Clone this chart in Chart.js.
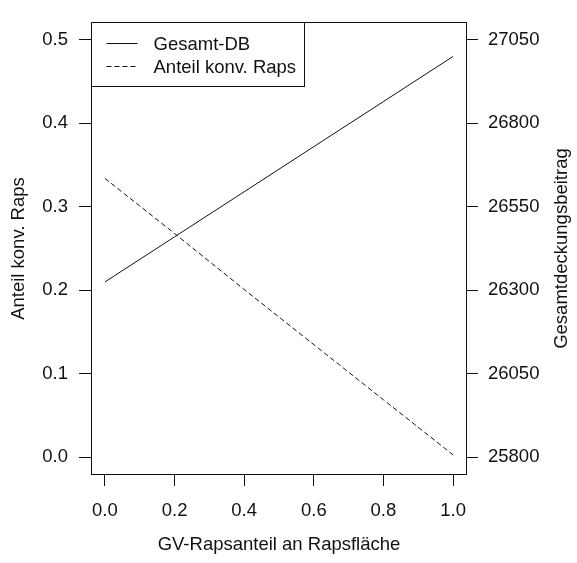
<!DOCTYPE html>
<html>
<head>
<meta charset="utf-8">
<script src="https://cdn.jsdelivr.net/npm/chart.js@4.4.1/dist/chart.umd.min.js"></script>
<style>
  body { margin: 0; background: #fff; }
  #wrap { width: 577px; height: 563px; }
</style>
</head>
<body>
<div id="wrap"><canvas id="raps" width="577" height="563"></canvas></div>
<script>
// Daten
const xWerte = [0.0, 0.2, 0.4, 0.6, 0.8, 1.0];
const gesamtDB = [26325, 26460, 26595, 26730, 26865, 27000];
const anteilKonv = [0.334, 0.268, 0.201, 0.135, 0.069, 0.003];
const xTicks = [0.0, 0.2, 0.4, 0.6, 0.8, 1.0];
const yLinksTicks = [0.0, 0.1, 0.2, 0.3, 0.4, 0.5];
const yRechtsTicks = [25800, 26050, 26300, 26550, 26800, 27050];

const schrift = '"Liberation Sans", Arial, sans-serif';
const farbe = '#111';

Chart.defaults.font.family = schrift;
Chart.defaults.font.size = 18.5;
Chart.defaults.color = farbe;

// Rahmen, Achsentitel und Legende wie im R-Plot
const rahmenPlugin = {
    id: 'rahmen',
    afterDraw(chart) {
        const c = chart.ctx;
        const a = chart.chartArea;
        c.save();
        c.strokeStyle = farbe;
        c.lineWidth = 1;
        c.strokeRect(Math.round(a.left) + 0.5, Math.round(a.top) + 0.5,
            Math.round(a.right - a.left) - 1, Math.round(a.bottom - a.top) - 1);

        // Achsentitel
        c.fillStyle = farbe;
        c.font = '18.5px ' + schrift;
        c.textAlign = 'center';
        c.textBaseline = 'middle';
        const mitteY = (a.top + a.bottom) / 2;
        c.fillText('GV-Rapsanteil an Rapsfläche', (a.left + a.right) / 2, 545);
        c.save();
        c.translate(19, mitteY);
        c.rotate(-Math.PI / 2);
        c.fillText('Anteil konv. Raps', 0, 0);
        c.restore();
        c.save();
        c.translate(562, mitteY);
        c.rotate(-Math.PI / 2);
        c.fillText('Gesamtdeckungsbeitrag', 0, 0);
        c.restore();

        // Legende oben links
        const lx = Math.round(a.left) + 0.5, ly = Math.round(a.top) + 0.5;
        c.strokeRect(lx, ly, 213, 64);
        chart.data.datasets.forEach((ds, i) => {
            const y = ly + 21 + i * 23;
            c.beginPath();
            c.setLineDash(ds.borderDash || []);
            c.moveTo(lx + 15, y);
            c.lineTo(lx + 46, y);
            c.stroke();
            c.setLineDash([]);
            c.textAlign = 'left';
            c.fillText(ds.label, lx + 62, y + 1);
        });
        c.restore();
    }
};

new Chart(document.getElementById('raps'), {
    type: 'line',
    data: {
        datasets: [
            {
                label: 'Gesamt-DB',
                data: xWerte.map((x, i) => ({ x: x, y: gesamtDB[i] })),
                yAxisID: 'yR',
                borderColor: farbe,
                borderWidth: 1,
                pointRadius: 0,
                tension: 0
            },
            {
                label: 'Anteil konv. Raps',
                data: xWerte.map((x, i) => ({ x: x, y: anteilKonv[i] })),
                yAxisID: 'yL',
                borderColor: farbe,
                borderWidth: 1,
                borderDash: [5, 3],
                pointRadius: 0,
                tension: 0
            }
        ]
    },
    options: {
        responsive: false,
        animation: false,
        layout: { padding: { top: 13, left: 0, right: 0, bottom: 0 } },
        plugins: { legend: { display: false }, tooltip: { enabled: false } },
        scales: {
            x: {
                type: 'linear',
                min: -0.04,
                max: 1.04,
                afterBuildTicks: s => { s.ticks = xTicks.map(v => ({ value: v })); },
                afterFit: s => { s.height = 88; },
                border: { display: false },
                grid: { drawOnChartArea: false, drawTicks: true, tickLength: 11, color: farbe },
                ticks: { padding: 14, maxRotation: 0, callback: v => v.toFixed(1) }
            },
            yL: {
                type: 'linear',
                position: 'left',
                min: -0.0211,
                max: 0.5211,
                afterBuildTicks: s => { s.ticks = yLinksTicks.map(v => ({ value: v })); },
                afterFit: s => { s.width = 91; },
                border: { display: false },
                grid: { drawOnChartArea: false, drawTicks: true, tickLength: 12, color: farbe },
                ticks: { padding: 11, callback: v => v.toFixed(1) }
            },
            yR: {
                type: 'linear',
                position: 'right',
                min: 25747.2,
                max: 27102.8,
                afterBuildTicks: s => { s.ticks = yRechtsTicks.map(v => ({ value: v })); },
                afterFit: s => { s.width = 110; },
                border: { display: false },
                grid: { drawOnChartArea: false, drawTicks: true, tickLength: 11, color: farbe },
                ticks: { padding: 10, callback: v => String(v) }
            }
        }
    },
    plugins: [rahmenPlugin]
});
</script>
</body>
</html>
